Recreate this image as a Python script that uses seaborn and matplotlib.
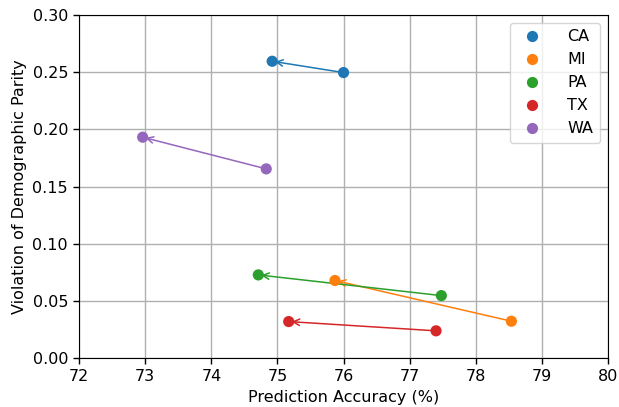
import numpy as np
import pandas as pd
import matplotlib
matplotlib.use('Agg')
import matplotlib.pyplot as plt
import seaborn as sns

plt.rcParams['font.size'] = 11.5

states = ['CA', 'MI', 'PA', 'TX', 'WA']
acc_before = [76.00, 78.54, 77.48, 77.40, 74.83]
acc_after = [74.92, 75.87, 74.71, 75.17, 72.96]
dp_before = [0.2497, 0.0323, 0.0547, 0.0239, 0.1655]
dp_after = [0.2596, 0.0679, 0.0728, 0.0320, 0.1932]
colors = ['#1f77b4', '#ff7f0e', '#2ca02c', '#d62728', '#9467bd']

df = pd.DataFrame({
    'state': states * 2,
    'acc': acc_before + acc_after,
    'dp': dp_before + dp_after,
})

fig = plt.figure(figsize=(6.19, 4.07), dpi=100)
ax = fig.add_axes([0.128, 0.120, 0.854, 0.843])

for i, s in enumerate(states):
    ax.annotate('', xy=(acc_after[i], dp_after[i]), xytext=(acc_before[i], dp_before[i]),
                arrowprops=dict(arrowstyle='->', color=colors[i], lw=1.1,
                                shrinkA=0, shrinkB=2), zorder=2)

sns.scatterplot(data=df, x='acc', y='dp', hue='state', palette=colors, s=65,
                linewidth=0, ax=ax, zorder=3)

ax.set_xlim(72, 80)
ax.set_ylim(0, 0.30)
ax.set_xticks(np.arange(72, 81, 1))
ax.set_yticks(np.arange(0, 0.31, 0.05))
ax.yaxis.set_major_formatter(matplotlib.ticker.FormatStrFormatter('%.2f'))
ax.tick_params(length=4.5, width=1)
ax.grid(True, color='#b0b0b0', linewidth=1)
ax.set_axisbelow(True)
ax.set_xlabel('Prediction Accuracy (%)')
ax.set_ylabel('Violation of Demographic Parity')
for sp in ax.spines.values():
    sp.set_color('black')
ax.legend(loc='upper right', title=None, fontsize=11.5, handletextpad=1.2)

fig.savefig('out.png', dpi=100)
